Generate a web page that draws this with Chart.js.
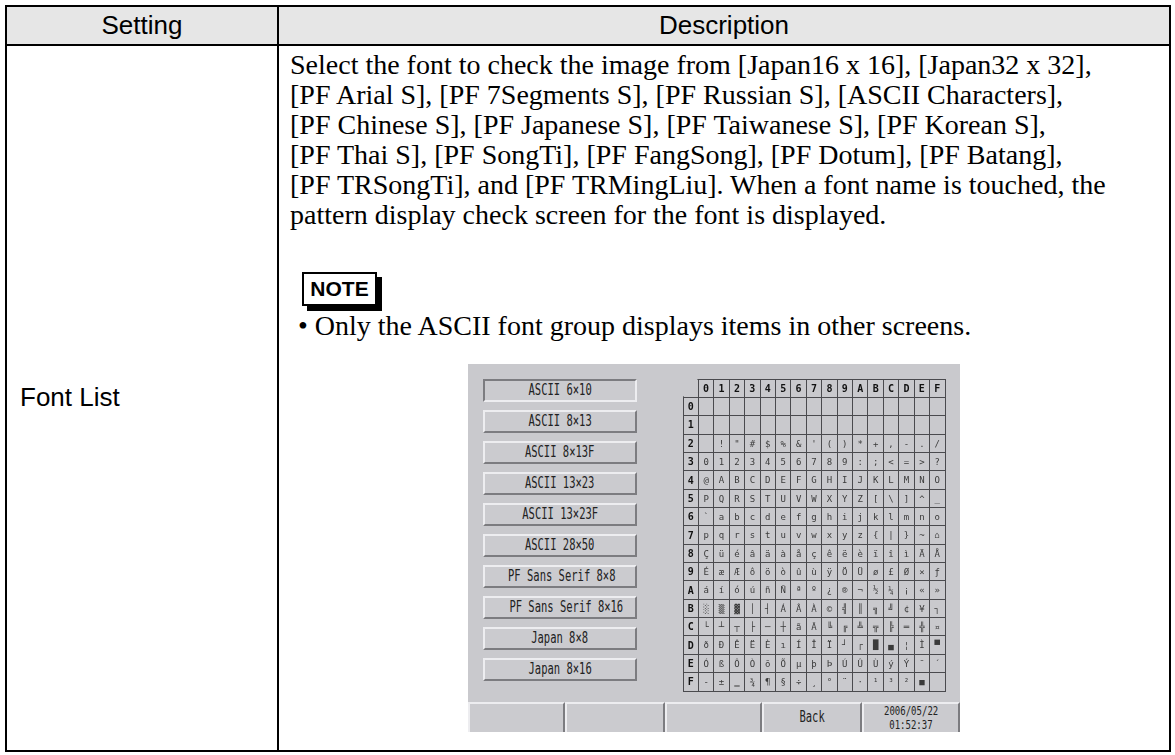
<!DOCTYPE html>
<html>
<head>
<meta charset="utf-8">
<title>Font List</title>
<script src="https://cdn.jsdelivr.net/npm/chart.js@4.4.0/dist/chart.umd.min.js"></script>
<style>
  body { margin: 0; width: 1175px; height: 755px; position: relative; overflow: hidden; background: #fff; font-family: "Liberation Sans", Arial, sans-serif; }
  .abs { position: absolute; box-sizing: border-box; }
  #frame { left: 5px; top: 5px; width: 1166px; height: 747px; border: 2px solid #000; }
  #head { left: 5px; top: 5px; width: 1166px; height: 41px; background: #e6e6e6; border: 2px solid #000; }
  #divider { left: 277px; top: 5px; width: 2px; height: 747px; background: #000; }
  .hd { top: 7px; height: 37px; line-height: 37px; font-size: 26px; text-align: center; color: #000; }
  #desc { left: 290px; top: 50px; font-family: "Liberation Serif", "Times New Roman", serif; font-size: 28px; line-height: 30px; white-space: nowrap; color: #000; }
  #note { left: 302px; top: 272px; width: 75px; height: 34px; border: 2px solid #000; background: #fff; box-shadow: 5px 5px 0 #000; font-weight: bold; font-size: 21px; line-height: 30px; text-align: center; }
  #bullet { left: 298px; top: 311px; font-family: "Liberation Serif", "Times New Roman", serif; font-size: 28px; line-height: 30px; white-space: nowrap; }
  #panel { left: 468px; top: 364px; width: 492px; height: 368px; background: #c9c9cd; }
  .btn { left: 15px; width: 154px; height: 23px; background: #cbcbcf; border-top: 2px solid #ededf0; border-left: 2px solid #ededf0; border-right: 2px solid #7c7c80; border-bottom: 2px solid #7c7c80; text-align: center; }
  .btn.on { border-top-color: #7c7c80; border-left-color: #7c7c80; border-right-color: #ededf0; border-bottom-color: #ededf0; }
  .lbl { display: inline-block; font-family: "DejaVu Sans Mono", monospace; font-size: 15px; line-height: 19px; color: #222; transform: scaleX(0.7); white-space: pre; }
  .foot { top: 338px; height: 30px; background: #cbcbcf; border-top: 2px solid #ededf0; border-left: 2px solid #ededf0; border-right: 2px solid #7c7c80; text-align: center; }
  .dt { left: 0; width: 100%; text-align: center; font-family: "DejaVu Sans Mono", monospace; font-size: 12px; line-height: 14px; height: 14px; color: #222; }
  .dt span { display: inline-block; transform: scaleX(0.75); }
  #gridWrap { left: 212px; top: 12px; width: 268px; height: 318px; }
</style>
</head>
<body>
<div class="abs" id="frame"></div>
<div class="abs" id="head"></div>
<div class="abs" id="divider"></div>
<div class="abs hd" style="left:7px;width:270px;">Setting</div>
<div class="abs hd" style="left:279px;width:890px;">Description</div>
<div class="abs" id="setting" style="left:20px;top:382px;font-size:26px;line-height:30px;">Font List</div>

<div class="abs" id="desc"></div>
<div class="abs" id="note">NOTE</div>
<div class="abs" id="bullet">&bull; Only the ASCII font group displays items in other screens.</div>

<div class="abs" id="panel">
  <div class="abs" id="gridWrap"><canvas id="charChart" width="268" height="318"></canvas></div>
</div>

<script>
// column / row headers of the character table (hex)
const colLabels = ["0", "1", "2", "3", "4", "5", "6", "7", "8", "9", "A", "B", "C", "D", "E", "F"];
const rowLabels = ["0", "1", "2", "3", "4", "5", "6", "7", "8", "9", "A", "B", "C", "D", "E", "F"];

// one string per row, 16 glyphs each (code page 850)
const charRows = [
  "                ",
  "                ",
  " !\"#$%&'()*+,-./",
  "0123456789:;<=>?",
  "@ABCDEFGHIJKLMNO",
  "PQRSTUVWXYZ[\\]^_",
  "`abcdefghijklmno",
  "pqrstuvwxyz{|}~⌂",
  "ÇüéâäàåçêëèïîìÄÅ",
  "ÉæÆôöòûùÿÖÜø£Ø×ƒ",
  "áíóúñÑªº¿®¬½¼¡«»",
  "░▒▓│┤ÁÂÀ©╣║╗╝¢¥┐",
  "└┴┬├─┼ãÃ╚╔╩╦╠═╬¤",
  "ðÐÊËÈıÍÎÏ┘┌█▄¦Ì▀",
  "ÓßÔÒõÕµþÞÚÛÙýÝ¯´",
  "-±‗¾¶§÷¸°¨·¹³²■ "
];

const fontButtons = [
  "ASCII 6×10", "ASCII 8×13", "ASCII 8×13F", "ASCII 13×23", "ASCII 13×23F",
  "ASCII 28×50", "PF Sans Serif 8×8", "PF Sans Serif 8×16", "Japan 8×8", "Japan 8×16"
];

const footerCells = ["", "", "", "Back", "2006/05/22|01:52:37"];

const descLines = [
  "Select the font to check the image from [Japan16 x 16], [Japan32 x 32],",
  "[PF Arial S], [PF 7Segments S], [PF Russian S], [ASCII Characters],",
  "[PF Chinese S], [PF Japanese S], [PF Taiwanese S], [PF Korean S],",
  "[PF Thai S], [PF SongTi], [PF FangSong], [PF Dotum], [PF Batang],",
  "[PF TRSongTi], and [PF TRMingLiu]. When a font name is touched, the",
  "pattern display check screen for the font is displayed."
];

// ============================
// TEXT + SCREEN PARTS
// ============================
document.getElementById("desc").innerHTML = descLines.join("<br>");

const panel = document.getElementById("panel");

fontButtons.forEach((name, i) => {
  const b = document.createElement("div");
  b.className = "abs btn" + (i === 0 ? " on" : "");
  b.style.top = (15 + i * 31) + "px";
  b.innerHTML = `<span class="lbl">${name}</span>`;
  panel.appendChild(b);
});

const footLefts = [0, 97, 197, 294, 394];
const footWidths = [97, 100, 97, 100, 98];
footerCells.forEach((txt, i) => {
  const f = document.createElement("div");
  f.className = "abs foot";
  f.style.left = footLefts[i] + "px";
  f.style.width = footWidths[i] + "px";
  if (txt.includes("|")) {
    // date / time on two lines
    txt.split("|").forEach((part, k) => {
      const line = document.createElement("div");
      line.className = "abs dt";
      line.style.top = (k * 14) + "px";
      line.innerHTML = `<span>${part}</span>`;
      f.appendChild(line);
    });
  } else if (txt) {
    f.innerHTML = `<span class="lbl" style="line-height:26px;">${txt}</span>`;
  }
  panel.appendChild(f);
});

// ============================
// CHARACTER TABLE (Chart.js)
// ============================
const cellPoints = [];
charRows.forEach((row, r) => {
  Array.from(row).forEach((ch, c) => {
    if (ch.trim()) cellPoints.push({ x: c, y: r, ch: ch });
  });
});

const headerPoints = [];
colLabels.forEach((lab, c) => headerPoints.push({ x: c, y: -1, ch: lab }));
rowLabels.forEach((lab, r) => headerPoints.push({ x: -1, y: r, ch: lab }));

const cellEdges = [];
for (let v = -1.5; v <= 15.5; v += 1) cellEdges.push({ value: v });

const PANEL_BG = "#c9c9cd";

const glyphPlugin = {
  id: "glyphs",
  afterDatasetsDraw(chart) {
    const ctx = chart.ctx;
    ctx.save();
    ctx.textAlign = "center";
    ctx.textBaseline = "middle";
    chart.data.datasets.forEach((ds, di) => {
      const meta = chart.getDatasetMeta(di);
      ctx.font = di === 0 ? "9px 'DejaVu Sans Mono'" : "bold 10px 'DejaVu Sans Mono'";
      ctx.fillStyle = di === 0 ? "#3a3a3a" : "#111";
      meta.data.forEach((pt, i) => {
        ctx.fillText(ds.data[i].ch, pt.x, pt.y + 1);
      });
    });
    ctx.restore();
  },
  afterDraw(chart) {
    // the empty corner cell has no outer border
    const xs = chart.scales.x;
    const ys = chart.scales.y;
    const edgeX = xs.getPixelForValue(-0.5);
    const edgeY = ys.getPixelForValue(-0.5);
    const ctx = chart.ctx;
    ctx.save();
    ctx.fillStyle = PANEL_BG;
    ctx.fillRect(0, 0, edgeX - 1, edgeY - 1);
    ctx.restore();
  }
};

const gridStyle = { color: "#4a4a4e", lineWidth: 1, drawTicks: false };

new Chart(document.getElementById("charChart").getContext("2d"), {
  type: "scatter",
  data: {
    datasets: [
      { label: "Glyphs", data: cellPoints, pointRadius: 0, pointHoverRadius: 0 },
      { label: "Headers", data: headerPoints, pointRadius: 0, pointHoverRadius: 0 }
    ]
  },
  options: {
    responsive: false,
    animation: false,
    events: [],
    layout: { padding: 3 },
    scales: {
      x: {
        type: "linear",
        min: -1.5,
        max: 15.5,
        afterBuildTicks: scale => { scale.ticks = cellEdges.map(t => ({ value: t.value })); },
        ticks: { display: false },
        grid: gridStyle,
        border: { display: true, color: "#4a4a4e" }
      },
      y: {
        type: "linear",
        reverse: true,
        min: -1.5,
        max: 15.5,
        afterBuildTicks: scale => { scale.ticks = cellEdges.map(t => ({ value: t.value })); },
        ticks: { display: false },
        grid: gridStyle,
        border: { display: true, color: "#4a4a4e" }
      }
    },
    plugins: {
      legend: { display: false },
      tooltip: { enabled: false }
    }
  },
  plugins: [glyphPlugin]
});
</script>
</body>
</html>
